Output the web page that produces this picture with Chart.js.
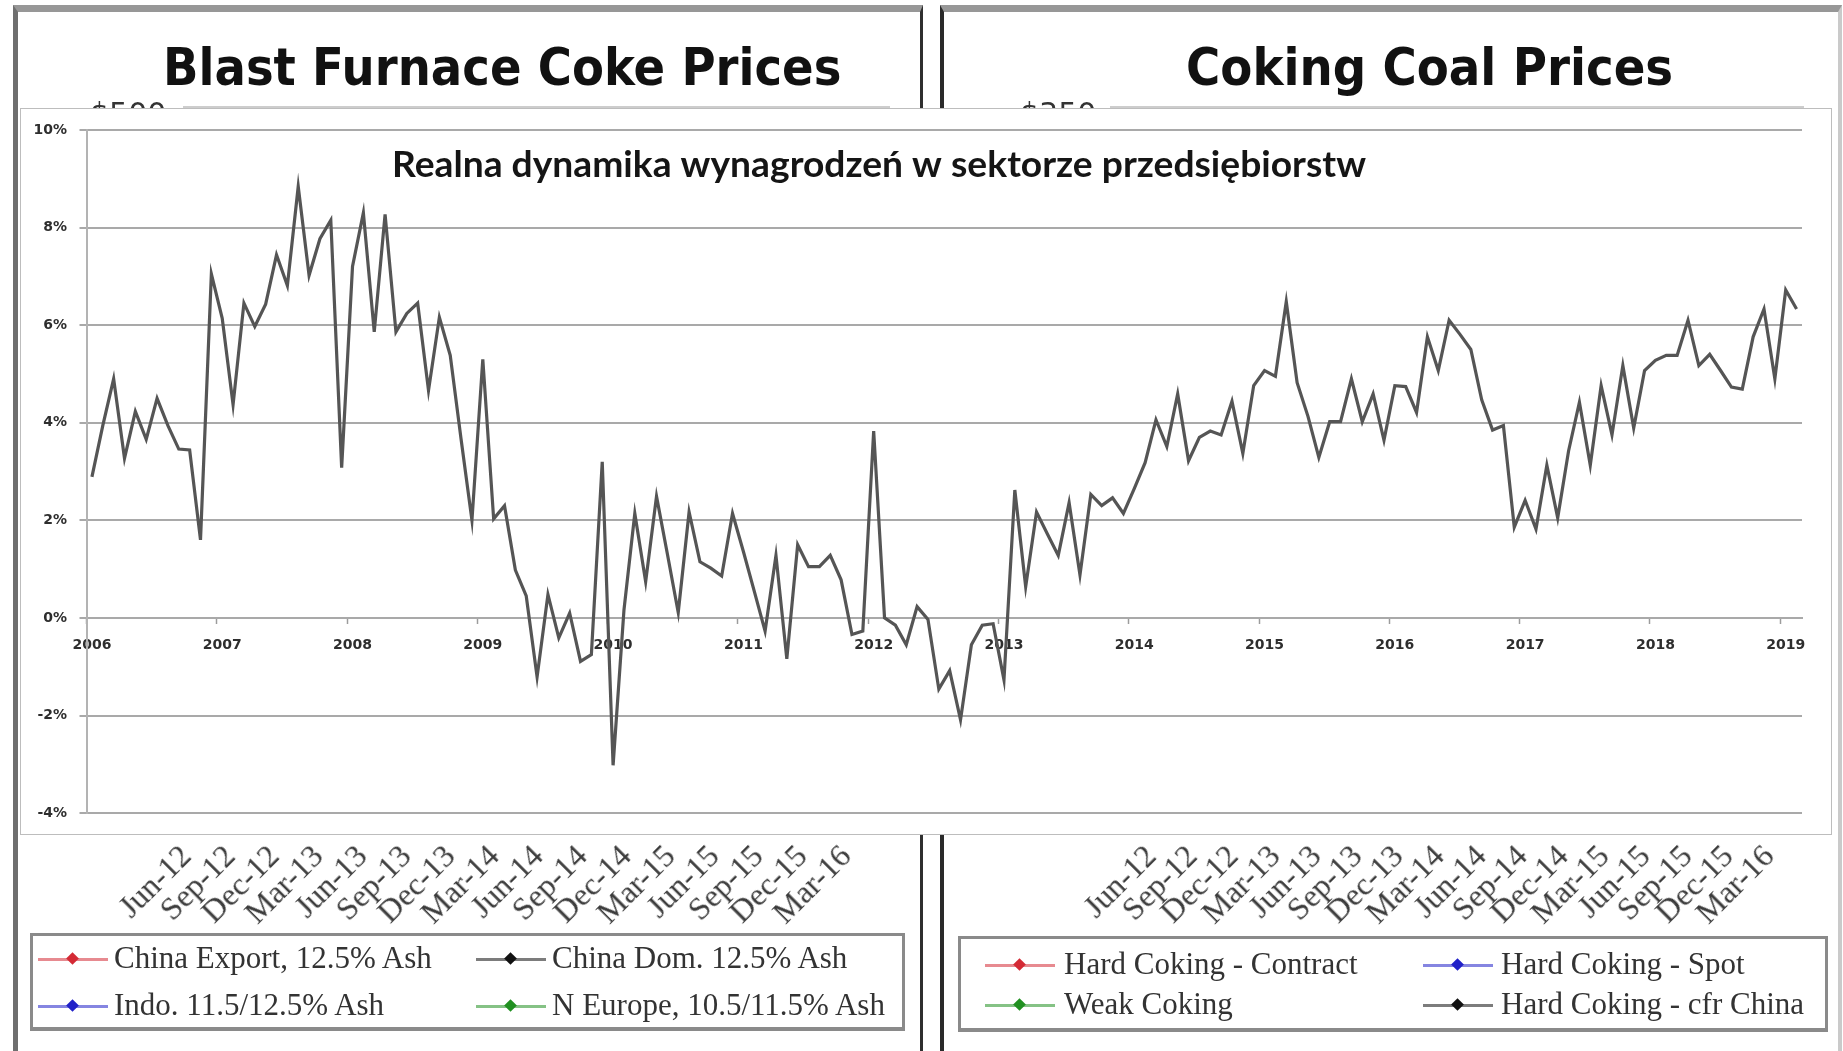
<!DOCTYPE html>
<html lang="pl">
<head>
<meta charset="utf-8">
<title>Realna dynamika wynagrodzeń w sektorze przedsiębiorstw</title>
<script src="https://cdn.jsdelivr.net/npm/chart.js@4.4.1/dist/chart.umd.min.js"></script>
<style>
    html, body { margin: 0; padding: 0; background: #fff; }
    body { width: 1843px; height: 1051px; position: relative; overflow: hidden; font-family: 'DejaVu Sans', sans-serif; }
    .frame { position: absolute; top: 5px; height: 1070px; box-sizing: border-box; border-top: 7px solid #979797; background: #fff; }
    #frameLeft { left: 13px; width: 910px; border-left: 5px solid #6f6f6f; border-right: 3px solid #2f2f2f; }
    #frameRight { left: 940px; width: 902px; border-left: 4px solid #2a2a2a; border-right: 4px solid #cacaca; }
    .bgTitle { position: absolute; top: 41px; font: bold 52px 'DejaVu Sans', sans-serif; line-height: 52px; color: #111; white-space: nowrap; transform-origin: 0 0; filter: blur(0.4px); }
    .bgTick { position: absolute; top: 99px; font: 30px 'DejaVu Sans', sans-serif; line-height: 30px; color: #333; white-space: nowrap; filter: blur(0.5px); }
    .bgLine { position: absolute; top: 106px; height: 2px; background: #cdcdcd; }
    .rot { position: absolute; width: 0; height: 0; transform: rotate(-45deg); transform-origin: 0 0; }
    .rot span { position: absolute; right: 0; top: -18px; line-height: 36px; white-space: nowrap; font: 32px 'Liberation Serif', serif; color: #3c3c3c; filter: blur(0.6px); }
    .legendBox { position: absolute; box-sizing: border-box; border: 3px solid #8a8a8a; border-bottom-width: 4px; background: #fff; }
    .entry { position: absolute; height: 0; }
    .entry .ln { position: absolute; top: -1.5px; height: 3px; }
    .entry .mk { position: absolute; top: -5px; width: 9px; height: 9px; transform: rotate(45deg); }
    .entry .tx { position: absolute; top: -19px; line-height: 38px; font: 31px 'Liberation Serif', serif; color: #333; white-space: nowrap; filter: blur(0.5px); }
    #box { position: absolute; left: 20px; top: 108px; width: 1810px; height: 725px; border: 1px solid #bdbdbd; background: #fff; z-index: 10; }
</style>
</head>
<body>
<div class="frame" id="frameLeft"></div>
<div class="frame" id="frameRight"></div>
<div class="bgTitle" id="titleLeft">Blast Furnace Coke Prices</div>
<div class="bgTitle" id="titleRight">Coking Coal Prices</div>
<div class="bgTick" style="left:90px">$500</div>
<div class="bgTick" style="left:1020px">$350</div>
<div class="bgLine" style="left:183px; width:707px"></div>
<div class="bgLine" style="left:1110px; width:694px"></div>

<div class="legendBox" style="left:30px; top:933px; width:875px; height:98px"></div>
<div class="legendBox" style="left:958px; top:936px; width:870px; height:96px"></div>

<div id="box"><canvas id="wageChart"></canvas></div>

<script>
const chartTitle = 'Realna dynamika wynagrodzeń w sektorze przedsiębiorstw';
const years = ['2006', '2007', '2008', '2009', '2010', '2011', '2012', '2013', '2014', '2015', '2016', '2017', '2018', '2019'];
const months = ['01', '02', '03', '04', '05', '06', '07', '08', '09', '10', '11', '12'];

// real wage growth, % y/y, monthly Jan 2006 - Feb 2019
const wageGrowth = [
    2.89, 3.94, 4.90, 3.27, 4.23, 3.66, 4.50, 3.94, 3.46, 3.44, 1.60, 7.05,
    6.14, 4.37, 6.45, 5.97, 6.43, 7.44, 6.81, 8.84, 7.02, 7.77, 8.15, 3.08,
    7.20, 8.30, 5.86, 8.27, 5.86, 6.24, 6.45, 4.66, 6.16, 5.38, 3.66, 2.00,
    5.30, 2.03, 2.30, 0.98, 0.45, -1.21, 0.48, -0.41, 0.10, -0.89, -0.75, 3.20,
    -3.02, 0.16, 2.14, 0.74, 2.49, 1.31, 0.11, 2.17, 1.15, 1.02, 0.86, 2.14,
    1.36, 0.55, -0.27, 1.28, -0.84, 1.50, 1.05, 1.05, 1.28, 0.78, -0.34, -0.27,
    3.83, 0.00, -0.15, -0.55, 0.23, -0.03, -1.46, -1.08, -2.09, -0.55, -0.15, -0.12,
    -1.27, 2.62, 0.64, 2.17, 1.72, 1.28, 2.36, 0.88, 2.53, 2.30, 2.46, 2.14,
    2.65, 3.18, 4.06, 3.51, 4.59, 3.22, 3.70, 3.83, 3.75, 4.44, 3.37, 4.76,
    5.07, 4.95, 6.48, 4.82, 4.13, 3.29, 4.02, 4.02, 4.90, 4.02, 4.59, 3.64,
    4.76, 4.74, 4.21, 5.76, 5.07, 6.10, 5.81, 5.50, 4.47, 3.85, 3.94, 1.86,
    2.41, 1.82, 3.13, 2.05, 3.42, 4.42, 3.13, 4.76, 3.75, 5.17, 3.89, 5.07,
    5.28, 5.38, 5.38, 6.10, 5.17, 5.40, 5.07, 4.73, 4.69, 5.76, 6.33, 4.90,
    6.72, 6.33
];

// background pictures (the two price charts behind)
const bgDates = ['Jun-12', 'Sep-12', 'Dec-12', 'Mar-13', 'Jun-13', 'Sep-13', 'Dec-13', 'Mar-14',
                 'Jun-14', 'Sep-14', 'Dec-14', 'Mar-15', 'Jun-15', 'Sep-15', 'Dec-15', 'Mar-16'];
const cokeLegend = ['China Export, 12.5% Ash', 'China Dom. 12.5% Ash', 'Indo. 11.5/12.5% Ash', 'N Europe, 10.5/11.5% Ash'];
const cokeColors = ['#d42a35', '#111111', '#2020c8', '#209020'];
const coalLegend = ['Hard Coking - Contract', 'Hard Coking - Spot', 'Weak Coking', 'Hard Coking - cfr China'];
const coalColors = ['#d42a35', '#2020c8', '#209020', '#111111'];

function fitWidth(id, left, width) {
    const el = document.getElementById(id);
    el.style.left = left + 'px';
    el.style.transform = 'scaleX(' + (width / el.scrollWidth) + ')';
}
fitWidth('titleLeft', 163, 678);
fitWidth('titleRight', 1186, 487);

function addRotated(text, x, y) {
    const w = document.createElement('div');
    w.className = 'rot';
    w.style.left = x + 'px';
    w.style.top = y + 'px';
    const s = document.createElement('span');
    s.textContent = text;
    w.appendChild(s);
    document.body.appendChild(w);
}
bgDates.forEach((d, i) => {
    addRotated(d, 185 + i * 44, 850);
    addRotated(d, 1150 + i * 41.2, 850);
});

function addEntry(text, color, lineX, textX, y) {
    const e = document.createElement('div');
    e.className = 'entry';
    e.style.left = '0px';
    e.style.top = y + 'px';
    e.innerHTML = `<div class="ln" style="left:${lineX}px;width:70px;background:${color};opacity:0.55"></div>
        <div class="mk" style="left:${lineX + 30}px;background:${color}"></div>
        <div class="tx" style="left:${textX}px">${text}</div>`;
    document.body.appendChild(e);
}
addEntry(cokeLegend[0], cokeColors[0], 38, 114, 959);
addEntry(cokeLegend[1], cokeColors[1], 476, 552, 959);
addEntry(cokeLegend[2], cokeColors[2], 38, 114, 1006);
addEntry(cokeLegend[3], cokeColors[3], 476, 552, 1006);
addEntry(coalLegend[0], coalColors[0], 985, 1064, 965);
addEntry(coalLegend[1], coalColors[1], 1423, 1501, 965);
addEntry(coalLegend[2], coalColors[2], 985, 1064, 1005);
addEntry(coalLegend[3], coalColors[3], 1423, 1501, 1005);

// main chart
const labels = [];
years.forEach(y => months.forEach(m => labels.push(y + '-' + m)));
labels.length = wageGrowth.length;

const titlePlugin = {
    id: 'innerTitle',
    afterDraw(chart) {
        const ctx = chart.ctx;
        ctx.save();
        ctx.font = 'bold 36px Lato, "Open Sans", sans-serif';
        const w = ctx.measureText(chartTitle).width;
        ctx.translate(858, 68);
        ctx.scale(974 / w, 1);
        ctx.fillStyle = '#151515';
        ctx.textAlign = 'center';
        ctx.textBaseline = 'alphabetic';
        ctx.fillText(chartTitle, 0, 0);
        ctx.restore();
    }
};

const axisFont = { family: 'DejaVu Sans', size: 14, weight: 'bold' };

new Chart(document.getElementById('wageChart'), {
    type: 'line',
    data: {
        labels: labels,
        datasets: [{
            label: chartTitle,
            data: wageGrowth,
            borderColor: '#555555',
            borderWidth: 3.2,
            pointRadius: 0,
            tension: 0,
            fill: false
        }]
    },
    options: {
        responsive: true,
        maintainAspectRatio: false,
        animation: false,
        layout: { padding: { left: 0, right: 29, top: 18, bottom: 17 } },
        plugins: {
            legend: { display: false },
            tooltip: { enabled: false }
        },
        scales: {
            x: {
                type: 'category',
                offset: true,
                position: { y: 0 },
                afterFit: (scale) => { scale.height = 0; },
                grid: {
                    offset: true,
                    drawOnChartArea: false,
                    drawTicks: true,
                    tickLength: 5,
                    tickWidth: 1.5,
                    tickColor: (c) => (c.index % 12 === 0 ? '#9c9c9c' : 'rgba(0,0,0,0)')
                },
                border: { display: true, color: '#a9a9a9', width: 2 },
                ticks: {
                    autoSkip: false,
                    maxRotation: 0,
                    minRotation: 0,
                    padding: 14,
                    color: '#2e2e2e',
                    font: axisFont,
                    callback: (v, i) => (i % 12 === 0 ? labels[i].slice(0, 4) : '')
                }
            },
            y: {
                min: -4,
                max: 10,
                afterFit: (scale) => { scale.width = 65.5; },
                grid: { color: '#a9a9a9', lineWidth: 2, tickLength: 7 },
                border: { display: true, color: '#b3b3b3', width: 2 },
                ticks: {
                    stepSize: 2,
                    padding: 12.5,
                    color: '#2e2e2e',
                    font: axisFont,
                    callback: (v) => v + '%'
                }
            }
        }
    },
    plugins: [titlePlugin]
});
</script>
</body>
</html>
